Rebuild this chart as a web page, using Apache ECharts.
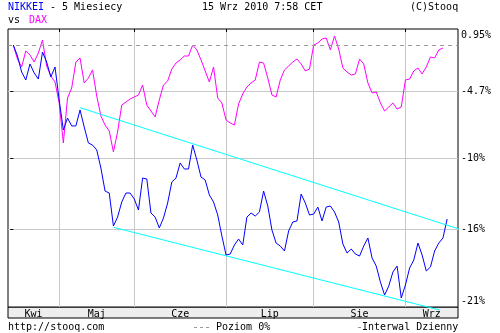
<!DOCTYPE html>
<html>
<head>
<meta charset="utf-8">
<script src="https://cdn.jsdelivr.net/npm/echarts@6/dist/echarts.min.js"></script>
<style>
  html, body { margin: 0; padding: 0; background: #fff; }
  #chart { width: 500px; height: 333px; }
</style>
</head>
<body>
<div id="chart"></div>
<script>
// zmiana % od pierwszej sesji
const NIKKEI = [
  0, -0.96, -2.35, -3.04, -1.65, -2.43, -2.96, -0.61, -1.48, -2.78,
  -1.91, -4.78, -7.39, -6.35, -7.04, -7.04, -5.65, -7.13, -8.52, -8.70,
  -9.13, -10.70, -12.70, -12.87, -15.74, -14.96, -13.65, -12.87, -12.87, -13.39,
  -14.35, -11.57, -11.65, -14.61, -14.96, -15.91, -15.04, -13.74, -11.91, -11.57,
  -10.26, -10.78, -10.78, -8.70, -10.00, -11.48, -11.74, -13.04, -13.65, -14.78,
  -16.61, -18.26, -18.17, -17.39, -16.87, -17.39, -14.96, -14.61, -14.87, -14.52,
  -12.70, -14.00, -16.09, -17.22, -17.48, -17.91, -16.17, -15.39, -15.30, -12.96,
  -13.74, -14.78, -14.70, -14.09, -15.30, -14.09, -14.00, -14.52, -15.39, -17.30,
  -18.09, -17.74, -18.17, -18.35, -17.48, -16.78, -18.52, -19.22, -20.61, -21.74,
  -20.96, -19.74, -19.22, -22.00, -20.87, -19.39, -18.70, -17.22, -18.26, -19.65,
  -19.30, -17.91, -17.22, -16.78, -15.13
];
const DAX = [
  0, -1.22, -1.91, -0.52, -0.87, -1.48, -0.70, 0.43, -1.83, -2.70,
  -3.22, -5.04, -8.52, -4.61, -3.74, -1.48, -1.13, -3.30, -2.87, -2.17,
  -4.43, -6.17, -6.96, -7.48, -9.30, -7.57, -5.22, -4.96, -4.70, -4.52,
  -4.35, -3.48, -5.22, -5.74, -6.26, -4.78, -3.48, -3.13, -2.09, -1.57,
  -1.30, -0.96, -0.96, 0, -0.43, -1.30, -2.26, -3.22, -1.91, -4.61,
  -5.04, -6.52, -6.78, -6.96, -5.13, -4.26, -3.65, -3.30, -3.04, -1.48,
  -1.57, -2.87, -4.35, -4.52, -3.04, -2.17, -1.83, -1.48, -1.22, -1.65,
  -2.26, -2.09, 0, 0.17, 0.52, 0.61, -0.43, 0.78, -0.35, -2.00,
  -2.35, -2.61, -2.52, -1.22, -1.65, -3.30, -4.17, -4.09, -5.04, -5.74,
  -5.39, -5.04, -5.57, -5.39, -3.04, -2.96, -2.26, -2.00, -2.52, -1.91,
  -1.04, -1.13, -0.43, -0.26
];

const MONTHS = ['Kwi', 'Maj', 'Cze', 'Lip', 'Sie', 'Wrz'];
const MONTH_STARTS = [11, 29, 51, 72, 94]; // indeks pierwszej sesji miesiaca
const X_MIN = -1.27, X_MAX = 106.6;

const Y_LABEL_POS = [0.87, -4.06, -9.85, -16.0, -22.26];
const Y_LABELS = ['0.95%', '-4.7%', '-10%', '-16%', '-21%'];
const Y_GRID = [-4.06, -9.85, -16.0];
const Y_MIN = -22.78, Y_MAX = 1.39;

// linie trendu (kanal spadkowy)
const TREND_UPPER = [[16, -5.45], [112, -16.6]];
const TREND_LOWER = [[24, -15.85], [102.3, -23.05]];

const FONT = '"DejaVu Sans Mono", monospace';

const bounds = [X_MIN, ...MONTH_STARTS, X_MAX];
const monthMids = MONTHS.map((m, i) => (bounds[i] + bounds[i + 1]) / 2);

function nearest(arr, v) {
  let best = 0;
  arr.forEach((a, i) => { if (Math.abs(a - v) < Math.abs(arr[best] - v)) best = i; });
  return best;
}

function txt(x, y, text, fill) {
  return { type: 'text', x, y, style: { text, font: '10px ' + FONT, fill: fill || '#000' } };
}

const chart = echarts.init(document.getElementById('chart'), null, { renderer: 'canvas' });

const option = {
  animation: false,
  backgroundColor: '#fff',
  textStyle: { fontFamily: FONT, fontSize: 10 },
  grid: {
    left: 8, right: 42, top: 29, height: 278,
    show: true, borderColor: '#000', borderWidth: 1, backgroundColor: '#fff'
  },
  xAxis: [{
    type: 'value', min: X_MIN, max: X_MAX, position: 'bottom',
    axisLine: { show: false },
    axisTick: { show: false, customValues: MONTH_STARTS },
    splitLine: { show: true, lineStyle: { color: '#c8c8c8', width: 1 } },
    axisLabel: {
      customValues: monthMids, margin: 2, color: '#000',
      fontFamily: FONT, fontSize: 10,
      formatter: (v) => MONTHS[nearest(monthMids, v)]
    }
  }, {
    type: 'value', min: X_MIN, max: X_MAX, position: 'top',
    axisLine: { show: false },
    axisTick: { show: true, inside: true, length: 3, customValues: MONTH_STARTS, lineStyle: { color: '#000' } },
    splitLine: { show: false },
    axisLabel: { show: false }
  }],
  yAxis: {
    type: 'value', min: Y_MIN, max: Y_MAX, position: 'right',
    axisLine: { show: false },
    axisTick: { show: true, inside: true, length: 3, customValues: Y_GRID, lineStyle: { color: '#000' } },
    splitLine: { show: true, lineStyle: { color: '#c8c8c8', width: 1 } },
    axisLabel: {
      customValues: Y_LABEL_POS, margin: 3, color: '#000',
      fontFamily: FONT, fontSize: 10,
      formatter: (v) => Y_LABELS[nearest(Y_LABEL_POS, v)]
    }
  },
  series: [{
    name: 'DAX', type: 'line', symbol: 'none',
    data: DAX.map((v, i) => [i, v]),
    lineStyle: { color: '#ff00ff', width: 1 },
    markLine: {
      silent: true, symbol: 'none', label: { show: false },
      lineStyle: { color: '#999', type: [4, 4], width: 1 },
      data: [{ yAxis: 0 }]
    }
  }, {
    name: 'NIKKEI', type: 'line', symbol: 'none',
    data: NIKKEI.map((v, i) => [i, v]),
    lineStyle: { color: '#0000ff', width: 1 }
  }, {
    type: 'line', symbol: 'none', clip: false, silent: true,
    data: TREND_UPPER,
    lineStyle: { color: '#00ffff', width: 1 }
  }, {
    type: 'line', symbol: 'none', clip: false, silent: true,
    data: TREND_LOWER,
    lineStyle: { color: '#00ffff', width: 1 }
  }],
  graphic: [
    { type: 'rect', z: -1, shape: { x: 8, y: 307, width: 450, height: 11 },
      style: { fill: '#eeeeee', stroke: '#000', lineWidth: 1 } },
    txt(8, 2, 'NIKKEI', '#0000ff'),
    txt(44, 2, ' - 5 Miesiecy'),
    txt(8, 15, 'vs'),
    txt(29, 15, 'DAX', '#ff00ff'),
    txt(202, 2, '15 Wrz 2010 7:58 CET'),
    txt(410, 2, '(C)Stooq'),
    txt(8, 322, 'http://stooq.com'),
    { type: 'line', shape: { x1: 194, y1: 327.5, x2: 211, y2: 327.5 },
      style: { stroke: '#999', lineWidth: 1, lineDash: [3, 3] } },
    txt(216, 322, 'Poziom 0%'),
    { type: 'line', shape: { x1: 358, y1: 327.5, x2: 361, y2: 327.5 },
      style: { stroke: '#999', lineWidth: 1 } },
    txt(362, 322, 'Interwal Dzienny')
  ]
};

chart.setOption(option);
</script>
</body>
</html>
